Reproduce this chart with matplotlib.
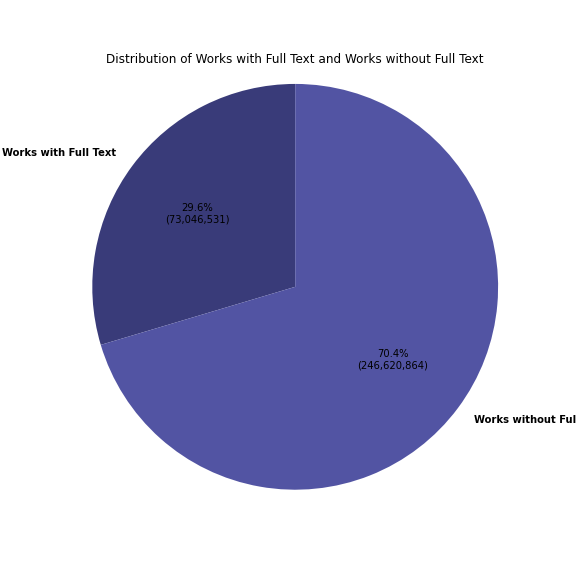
import matplotlib
matplotlib.use("Agg")
import matplotlib.pyplot as plt

labels = ["Works with Full Text", "Works without Full Text"]
pie_values = [73046531, 173574333]
shown_counts = [73046531, 246620864]
colors = ["#393b79", "#5254a3"]
title = "Distribution of Works with Full Text and Works without Full Text"

fig, ax = plt.subplots(figsize=(8, 8), dpi=72)
wedges, texts, autotexts = ax.pie(pie_values, labels=labels, colors=colors,
                                  autopct="%1.1f%%", startangle=90)
for t in texts:
    t.set_fontweight("bold")
for t, c in zip(autotexts, shown_counts):
    t.set_text(f"{t.get_text()}\n({c:,})")
ax.set_aspect("equal", adjustable="datalim")
ax.set_xlim(-1.1, 1.1)
ax.set_ylim(-1.113, 1.073)
ax.set_title(title)
fig.savefig("out.png", dpi=72)
